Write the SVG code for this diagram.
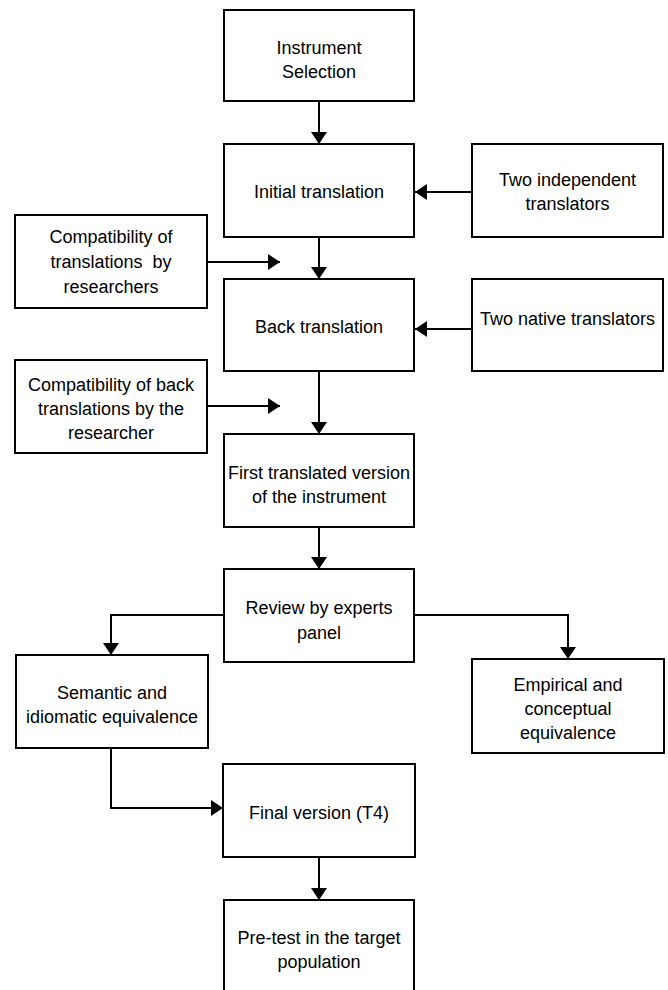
<svg xmlns="http://www.w3.org/2000/svg" width="668" height="990" viewBox="0 0 668 990">
<style>
.box{fill:#fff;stroke:#000;stroke-width:2}
.t{font-family:"Liberation Sans",Arial,sans-serif;font-size:18px;fill:#000;text-anchor:middle}
.c{fill:none;stroke:#000;stroke-width:2}
</style>
<defs>
<marker id="ah" viewBox="0 0 12 16" refX="12" refY="8" markerWidth="12" markerHeight="16" markerUnits="userSpaceOnUse" orient="auto">
<path d="M0,0 L12,8 L0,16 z" fill="#000"/>
</marker>
</defs>
<rect width="668" height="990" fill="#fff"/>
<g id="connectors">
<line class="c" x1="319" y1="101" x2="319" y2="144" marker-end="url(#ah)"/>
<line class="c" x1="472" y1="192" x2="415" y2="192" marker-end="url(#ah)"/>
<line class="c" x1="207" y1="262" x2="280" y2="262" marker-end="url(#ah)"/>
<line class="c" x1="319" y1="237" x2="319" y2="279" marker-end="url(#ah)"/>
<line class="c" x1="472" y1="329" x2="415" y2="329" marker-end="url(#ah)"/>
<line class="c" x1="207" y1="406" x2="280" y2="406" marker-end="url(#ah)"/>
<line class="c" x1="319" y1="371" x2="319" y2="434" marker-end="url(#ah)"/>
<line class="c" x1="319" y1="527" x2="319" y2="569" marker-end="url(#ah)"/>
<polyline class="c" points="224,615 111,615 111,655" marker-end="url(#ah)"/>
<polyline class="c" points="414,615 568,615 568,659" marker-end="url(#ah)"/>
<polyline class="c" points="111,748 111,808 223,808" marker-end="url(#ah)"/>
<line class="c" x1="319" y1="857" x2="319" y2="900" marker-end="url(#ah)"/>
</g>
<g id="instrument-selection">
<rect class="box" x="224" y="10" width="190" height="91"/>
<text class="t" x="319" y="54">Instrument</text>
<text class="t" x="319" y="78">Selection</text>
</g>
<g id="initial-translation">
<rect class="box" x="224" y="144" width="190" height="93"/>
<text class="t" x="319" y="198">Initial translation</text>
</g>
<g id="two-independent-translators">
<rect class="box" x="472" y="144" width="191" height="93"/>
<text class="t" x="567.5" y="186">Two independent</text>
<text class="t" x="567.5" y="210">translators</text>
</g>
<g id="compat-translations">
<rect class="box" x="15" y="215" width="192" height="93"/>
<text class="t" x="111" y="243">Compatibility of</text>
<text class="t" x="111" y="268" xml:space="preserve">translations  by</text>
<text class="t" x="111" y="293">researchers</text>
</g>
<g id="back-translation">
<rect class="box" x="224" y="279" width="190" height="92"/>
<text class="t" x="319" y="333">Back translation</text>
</g>
<g id="two-native-translators">
<rect class="box" x="472" y="279" width="191" height="92"/>
<text class="t" x="567.5" y="325">Two native translators</text>
</g>
<g id="compat-back-translations">
<rect class="box" x="15" y="360" width="192" height="93"/>
<text class="t" x="111" y="391">Compatibility of back</text>
<text class="t" x="111" y="415">translations by the</text>
<text class="t" x="111" y="439">researcher</text>
</g>
<g id="first-translated-version">
<rect class="box" x="224" y="434" width="190" height="93"/>
<text class="t" x="319" y="479">First translated version</text>
<text class="t" x="319" y="503">of the instrument</text>
</g>
<g id="review-experts">
<rect class="box" x="224" y="569" width="190" height="93"/>
<text class="t" x="319" y="614">Review by experts</text>
<text class="t" x="319" y="639">panel</text>
</g>
<g id="semantic-equivalence">
<rect class="box" x="16" y="655" width="192" height="93"/>
<text class="t" x="112" y="699">Semantic and</text>
<text class="t" x="112" y="723">idiomatic equivalence</text>
</g>
<g id="empirical-equivalence">
<rect class="box" x="472" y="659" width="192" height="94"/>
<text class="t" x="568" y="691">Empirical and</text>
<text class="t" x="568" y="715">conceptual</text>
<text class="t" x="568" y="739">equivalence</text>
</g>
<g id="final-version">
<rect class="box" x="223" y="764" width="192" height="93"/>
<text class="t" x="319" y="819">Final version (T4)</text>
</g>
<g id="pre-test">
<rect class="box" x="224" y="900" width="190" height="110"/>
<text class="t" x="319" y="944">Pre-test in the target</text>
<text class="t" x="319" y="968">population</text>
</g>
</svg>
